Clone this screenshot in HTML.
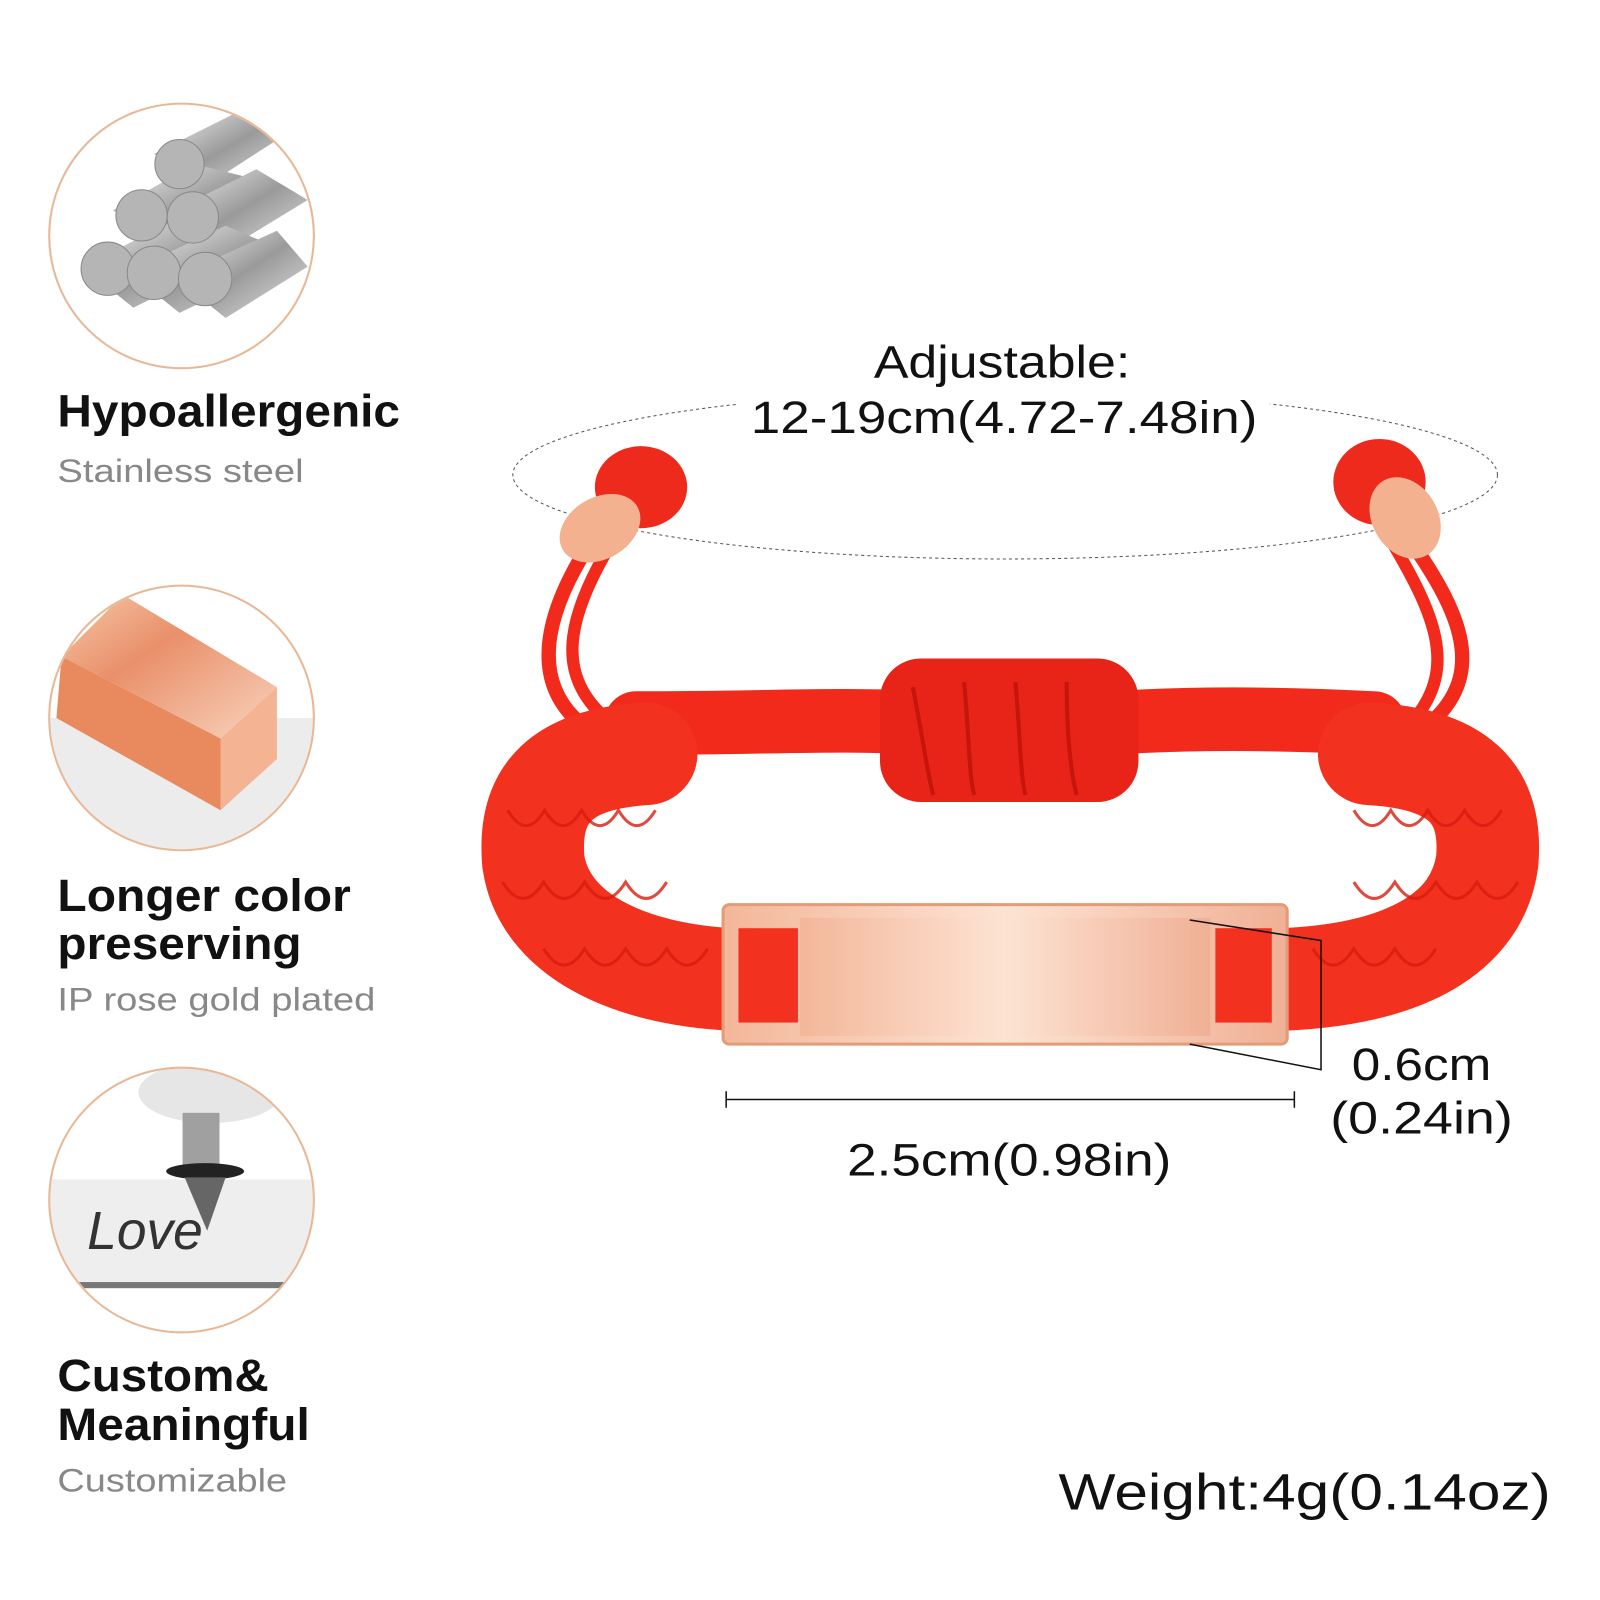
<!DOCTYPE html>
<html><head><meta charset="utf-8"><style>
html,body{margin:0;padding:0;background:#fff;}
svg{display:block;}
text{font-family:"Liberation Sans",sans-serif;}
</style></head><body>
<svg width="1600" height="1600" viewBox="0 0 1560 1560" xmlns="http://www.w3.org/2000/svg">
<defs>
<linearGradient id="steel" x1="0" y1="0" x2="1" y2="1">
<stop offset="0" stop-color="#f4f4f4"/><stop offset="0.5" stop-color="#9a9a9a"/><stop offset="1" stop-color="#e6e6e6"/></linearGradient>
<linearGradient id="rose" x1="0" y1="0" x2="1" y2="1">
<stop offset="0" stop-color="#f6c7a8"/><stop offset="0.4" stop-color="#e9906a"/><stop offset="1" stop-color="#f8d4bf"/></linearGradient>
<linearGradient id="plate" x1="0" y1="0" x2="1" y2="0">
<stop offset="0" stop-color="#f3b79a"/><stop offset="0.5" stop-color="#fde3d3"/><stop offset="1" stop-color="#f0b095"/></linearGradient>
<clipPath id="c1"><circle cx="177" cy="230" r="128"/></clipPath>
<clipPath id="c2"><circle cx="177" cy="700" r="128"/></clipPath>
<clipPath id="c3"><circle cx="177" cy="1170" r="128"/></clipPath>
</defs>

<g clip-path="url(#c1)">
<rect x="40" y="90" width="280" height="280" fill="#fff"/>
<g fill="url(#steel)">
<polygon points="150,150 230,110 280,130 195,185"/>
<polygon points="110,205 190,160 270,180 160,240"/>
<polygon points="160,210 250,165 300,195 210,250"/>
<polygon points="80,260 170,215 250,240 130,300"/>
<polygon points="125,265 220,220 290,250 175,305"/>
<polygon points="170,270 270,225 300,260 220,310"/>
</g>
<g fill="#b5b5b5" stroke="#888" stroke-width="1">
<circle cx="175" cy="160" r="24"/><circle cx="138" cy="210" r="25"/><circle cx="188" cy="212" r="25"/>
<circle cx="105" cy="262" r="26"/><circle cx="150" cy="266" r="26"/><circle cx="200" cy="272" r="26"/>
</g>
</g>
<circle cx="177" cy="230" r="129" fill="none" stroke="#e8b896" stroke-width="2"/>

<g clip-path="url(#c2)">
<rect x="40" y="560" width="280" height="280" fill="#fff"/>
<rect x="40" y="700" width="280" height="140" fill="#ececec"/>
<polygon points="60,640 120,580 270,670 215,720" fill="url(#rose)"/>
<polygon points="60,640 215,720 215,790 55,700" fill="#e88a5e"/>
<polygon points="215,720 270,670 270,740 215,790" fill="#f4b393"/>
</g>
<circle cx="177" cy="700" r="129" fill="none" stroke="#e8b896" stroke-width="2"/>

<g clip-path="url(#c3)">
<rect x="40" y="1040" width="280" height="280" fill="#fff"/>
<rect x="40" y="1150" width="280" height="100" fill="#eeeeee"/>
<rect x="40" y="1250" width="280" height="6" fill="#777"/>
<ellipse cx="205" cy="1065" rx="70" ry="30" fill="#e6e6e6"/>
<rect x="178" y="1085" width="36" height="55" fill="#a0a0a0"/>
<ellipse cx="200" cy="1142" rx="38" ry="8" fill="#222"/>
<polygon points="180,1148 220,1148 202,1200" fill="#666"/>
<text x="85" y="1218" font-family="Liberation Serif,serif" font-style="italic" font-size="52" fill="#333">Love</text>
</g>
<circle cx="177" cy="1170" r="129" fill="none" stroke="#e8b896" stroke-width="2"/>

<g font-weight="bold" fill="#111" font-size="44">
<text x="56" y="416" textLength="334" lengthAdjust="spacingAndGlyphs">Hypoallergenic</text>
<text x="56" y="888" textLength="286" lengthAdjust="spacingAndGlyphs">Longer color</text>
<text x="56" y="935" textLength="238" lengthAdjust="spacingAndGlyphs">preserving</text>
<text x="56" y="1356" textLength="206" lengthAdjust="spacingAndGlyphs">Custom&amp;</text>
<text x="56" y="1404" textLength="246" lengthAdjust="spacingAndGlyphs">Meaningful</text>
</g>
<g fill="#888" font-size="32">
<text x="56" y="470" textLength="240" lengthAdjust="spacingAndGlyphs">Stainless steel</text>
<text x="56" y="985" textLength="310" lengthAdjust="spacingAndGlyphs">IP rose gold plated</text>
<text x="56" y="1454" textLength="224" lengthAdjust="spacingAndGlyphs">Customizable</text>
</g>

<ellipse cx="980" cy="463" rx="480" ry="82" fill="none" stroke="#555" stroke-width="1" stroke-dasharray="3,3"/>
<rect x="718" y="370" width="520" height="40" fill="#fff"/>
<g fill="#111" font-size="44" text-anchor="middle" font-family="DejaVu Sans, sans-serif">
<text x="977" y="368" textLength="250" lengthAdjust="spacingAndGlyphs">Adjustable:</text>
<text x="979" y="422" textLength="494" lengthAdjust="spacingAndGlyphs">12-19cm(4.72-7.48in)</text>
</g>

<g fill="none" stroke="#f12a1c" stroke-linecap="round">
<path d="M575,530 C530,600 520,660 560,700" stroke-width="14"/>
<path d="M590,540 C550,610 545,660 590,700" stroke-width="12"/>
<path d="M1370,520 C1420,590 1450,650 1400,700" stroke-width="14"/>
<path d="M1355,525 C1400,600 1420,650 1380,700" stroke-width="12"/>
<path d="M620,705 C750,705 820,700 900,705" stroke-width="62"/>
<path d="M1080,705 C1160,700 1240,700 1340,705" stroke-width="62"/>
</g>
<ellipse cx="625" cy="475" rx="45" ry="40" fill="#ee2a1d"/>
<ellipse cx="1345" cy="470" rx="45" ry="42" fill="#ee2a1d"/>
<ellipse cx="585" cy="515" rx="42" ry="30" fill="#f3b18f" transform="rotate(-30 585 515)"/>
<ellipse cx="1370" cy="505" rx="42" ry="32" fill="#f3b18f" transform="rotate(60 1370 505)"/>
<rect x="858" y="642" width="252" height="140" rx="40" fill="#e82418"/>
<g stroke="#c5150c" stroke-width="4" fill="none">
<path d="M890,670 C900,720 905,760 910,775"/><path d="M940,665 C945,720 945,760 950,775"/>
<path d="M990,665 C995,720 995,760 1000,775"/><path d="M1040,665 C1040,720 1045,760 1050,775"/>
</g>
<g fill="none" stroke="#f2311f" stroke-linecap="round" stroke-width="100">
<path d="M630,735 C540,740 515,780 520,840 C530,910 610,950 715,955"/>
<path d="M1335,735 C1430,740 1455,780 1450,840 C1440,910 1370,950 1250,955"/>
</g>
<g fill="none" stroke="#d81d10" stroke-width="3" opacity="0.8">
<path d="M495,790 q18,30 36,0 q18,30 36,0 q18,30 36,0 q18,30 36,0"/>
<path d="M490,860 q20,32 40,0 q20,32 40,0 q20,32 40,0 q20,32 40,0"/>
<path d="M530,925 q20,32 40,0 q20,32 40,0 q20,32 40,0 q20,32 40,0"/>
<path d="M1320,790 q18,30 36,0 q18,30 36,0 q18,30 36,0 q18,30 36,0"/>
<path d="M1320,860 q20,32 40,0 q20,32 40,0 q20,32 40,0 q20,32 40,0"/>
<path d="M1280,925 q20,32 40,0 q20,32 40,0 q20,32 40,0"/>
</g>
<rect x="705" y="882" width="550" height="136" rx="6" fill="url(#plate)" stroke="#e49b78" stroke-width="3"/>
<rect x="720" y="905" width="58" height="92" fill="#f2311f"/>
<rect x="1185" y="905" width="55" height="92" fill="#f2311f"/>
<rect x="780" y="895" width="400" height="115" fill="url(#plate)"/>

<g stroke="#111" stroke-width="1.5" fill="none">
<path d="M1160,897 L1288,917 L1288,1043 L1160,1018"/>
<path d="M708,1072 L1262,1072 M708,1064 L708,1080 M1262,1064 L1262,1080"/>
</g>
<g fill="#111" font-size="44" text-anchor="middle" font-family="DejaVu Sans, sans-serif">
<text x="1386" y="1053" textLength="136" lengthAdjust="spacingAndGlyphs">0.6cm</text>
<text x="1386" y="1105" textLength="178" lengthAdjust="spacingAndGlyphs">(0.24in)</text>
<text x="984" y="1146" textLength="316" lengthAdjust="spacingAndGlyphs">2.5cm(0.98in)</text>
<text x="1272" y="1472" font-size="50" textLength="480" lengthAdjust="spacingAndGlyphs">Weight:4g(0.14oz)</text>
</g>
</svg>
</body></html>
